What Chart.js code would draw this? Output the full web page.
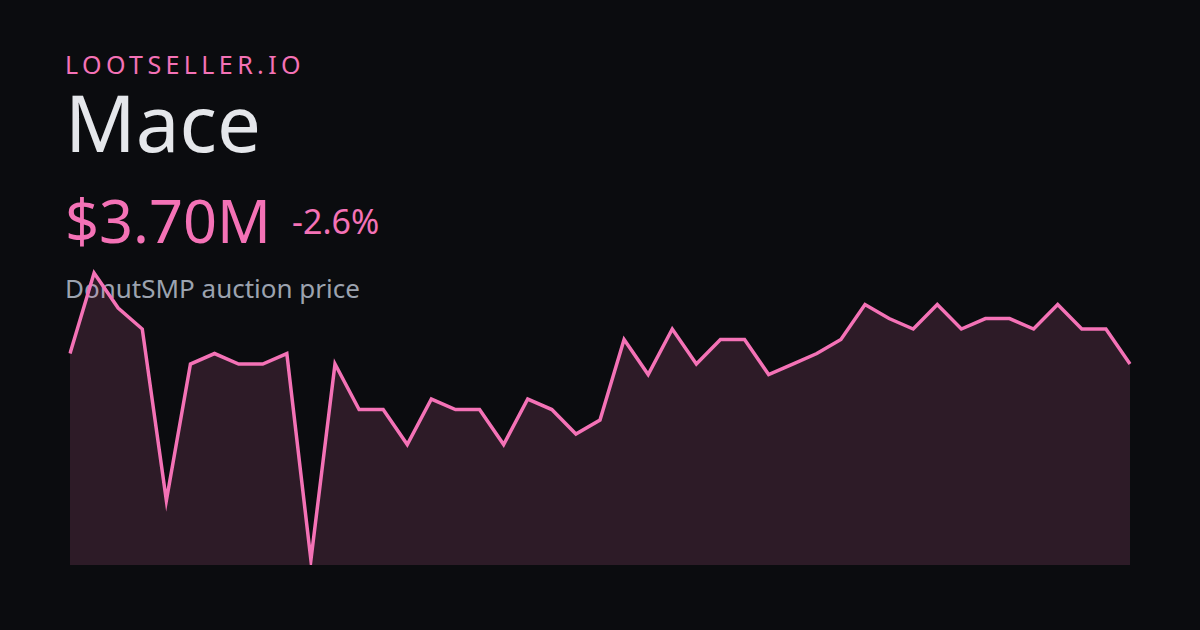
<!DOCTYPE html>
<html>
<head>
<meta charset="utf-8">
<script src="https://cdn.jsdelivr.net/npm/chart.js@4"></script>
<style>
  body { margin: 0; width: 1200px; height: 630px; background: #0b0c0f; overflow: hidden; font-family: "Noto Sans", sans-serif; }
  .t { position: absolute; left: 65px; line-height: 1; white-space: nowrap; }
  #brand { top: 52px; font-size: 25px; color: #f472b6; letter-spacing: 4.4px; }
  #name { top: 83px; font-size: 78px; color: #e5e7eb; }
  #price { top: 190px; font-size: 59.5px; color: #f472b6; }
  #change { top: 204px; left: 292px; font-size: 34px; color: #f472b6; }
  #sub { top: 275px; font-size: 26px; color: #9ca3af; }
  #wrap { position: absolute; left: 60px; top: 255px; width: 1080px; height: 320px; }
</style>
</head>
<body>
<div class="t" id="brand">LOOTSELLER.IO</div>
<div class="t" id="name">Mace</div>
<div class="t" id="price">$3.70M</div>
<div class="t" id="change">-2.6%</div>
<div class="t" id="sub">DonutSMP auction price</div>
<div id="wrap"><canvas id="myChart"></canvas></div>
<script>
// prices in millions
const days = [];
const prices = [3.73, 3.96, 3.86, 3.80, 3.31, 3.70, 3.73, 3.70, 3.70, 3.73,
  3.14, 3.70, 3.57, 3.57, 3.47, 3.60, 3.57, 3.57, 3.47, 3.60,
  3.57, 3.50, 3.54, 3.77, 3.67, 3.80, 3.70, 3.77, 3.77, 3.67,
  3.70, 3.73, 3.77, 3.87, 3.83, 3.80, 3.87, 3.80, 3.83, 3.83,
  3.80, 3.87, 3.80, 3.80, 3.70];
for (let i = 0; i < prices.length; i++) days.push(i + 1);

function myLoadFunction() {
  const ctx = document.getElementById('myChart').getContext('2d');
  const config = {
    type: 'line',
    data: {
      labels: days,
      datasets: [{
        data: prices,
        borderColor: '#f472b6',
        borderWidth: 3.5,
        backgroundColor: 'rgba(244,114,182,0.15)',
        fill: 'start',
        tension: 0,
        pointRadius: 0
      }]
    },
    options: {
      responsive: true,
      maintainAspectRatio: false,
      animation: false,
      layout: { padding: 10 },
      plugins: { legend: { display: false }, tooltip: { enabled: false } },
      scales: {
        x: { display: false },
        y: { display: false, min: 3.1257, max: 3.983 }
      }
    }
  };
  new Chart(ctx, config);
}

document.addEventListener('DOMContentLoaded', myLoadFunction);
</script>
</body>
</html>
